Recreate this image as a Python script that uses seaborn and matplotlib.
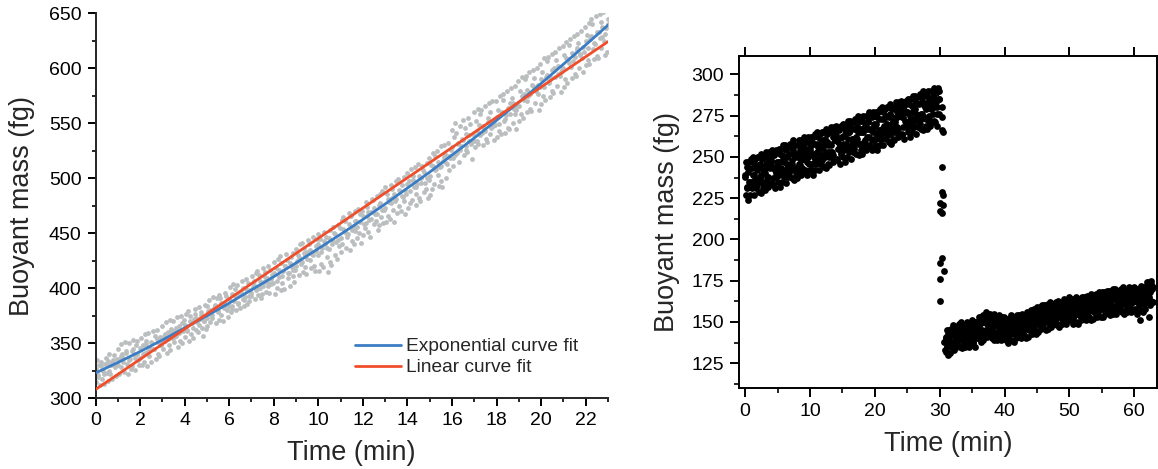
import numpy as np
import pandas as pd
import matplotlib
matplotlib.use("Agg")
import matplotlib.pyplot as plt
import seaborn as sns
from matplotlib.ticker import MultipleLocator

# ---------------- data: left panel (growth) ----------------
growth_t_start, growth_t_stop = 0.0, 23.0   # min, readings evenly spaced
growth_mass = [
    327, 315, 335, 321, 330, 312, 333, 318, 325, 313, 331, 337, 323, 334, 316, 340, 322, 330, 318, 335, 339, 329, 320, 336,
    345, 322, 336, 328, 349, 340, 337, 324, 351, 343, 331, 322, 350, 336, 327, 329, 345, 353, 340, 326, 348, 352, 335, 330,
    337, 355, 330, 348, 333, 358, 341, 352, 329, 359, 338, 346, 333, 350, 361, 345, 357, 336, 362, 340, 351, 338, 356, 348,
    366, 345, 357, 352, 369, 341, 360, 348, 371, 344, 363, 355, 370, 351, 361, 357, 374, 347, 366, 352, 375, 350, 368, 361,
    371, 356, 377, 362, 379, 352, 375, 358, 368, 355, 372, 381, 377, 362, 369, 360, 383, 372, 378, 364, 357, 370, 385, 363,
    366, 384, 379, 389, 369, 376, 373, 392, 382, 385, 368, 391, 378, 394, 371, 391, 376, 384, 370, 387, 396, 393, 380, 374,
    384, 401, 378, 395, 381, 404, 388, 399, 380, 403, 386, 394, 382, 397, 407, 400, 389, 384, 392, 408, 386, 405, 388, 398,
    393, 411, 401, 407, 390, 414, 398, 416, 394, 412, 400, 391, 395, 418, 406, 415, 397, 409, 402, 420, 396, 417, 404, 412,
    405, 424, 395, 418, 400, 427, 410, 429, 398, 423, 405, 416, 399, 420, 431, 426, 409, 414, 402, 428, 419, 432, 411, 406,
    417, 436, 425, 430, 412, 440, 422, 441, 415, 437, 419, 429, 413, 433, 444, 440, 426, 418, 431, 447, 420, 416, 438, 445,
    430, 449, 416, 445, 422, 437, 419, 451, 440, 447, 428, 415, 436, 453, 424, 421, 444, 456, 450, 430, 442, 427, 457, 438,
    455, 433, 462, 440, 465, 452, 461, 437, 447, 449, 468, 435, 466, 443, 456, 440, 470, 452, 461, 446, 472, 450, 467, 441,
    470, 448, 458, 455, 478, 466, 474, 451, 462, 447, 469, 481, 480, 458, 467, 461, 484, 453, 476, 457, 486, 465, 488, 459,
    471, 492, 460, 486, 466, 478, 463, 494, 482, 490, 471, 460, 479, 497, 468, 499, 475, 488, 470, 494, 483, 501, 479, 467,
    486, 505, 473, 497, 477, 508, 480, 502, 492, 510, 486, 476, 495, 513, 482, 479, 500, 511, 507, 487, 496, 490, 514, 482,
    498, 518, 485, 512, 490, 523, 495, 520, 508, 525, 503, 493, 510, 529, 497, 492, 516, 530, 522, 500, 513, 532, 507, 518,
    526, 544, 511, 518, 537, 550, 541, 523, 532, 515, 547, 529, 536, 553, 521, 546, 526, 540, 524, 555, 534, 549, 531, 517,
    540, 560, 528, 552, 534, 563, 531, 548, 558, 562, 541, 530, 545, 566, 536, 533, 555, 568, 560, 540, 551, 570, 547, 535,
    548, 570, 537, 562, 543, 575, 540, 559, 571, 576, 552, 541, 557, 579, 546, 545, 568, 582, 573, 550, 563, 584, 558, 545,
    566, 588, 552, 579, 558, 592, 555, 576, 590, 593, 570, 560, 575, 596, 563, 561, 585, 598, 591, 568, 580, 600, 576, 562,
    583, 604, 567, 596, 575, 609, 571, 592, 606, 610, 586, 574, 591, 613, 579, 577, 600, 615, 607, 584, 595, 618, 593, 578,
    598, 620, 583, 612, 590, 624, 586, 608, 621, 626, 601, 591, 606, 629, 595, 593, 616, 631, 623, 600, 612, 634, 609, 596,
    615, 637, 603, 630, 607, 641, 604, 626, 645, 640, 617, 608, 622, 647, 611, 609, 633, 649, 642, 618, 628, 651, 625, 612,
    636, 615, 645,
]
growth_mass_core = [
    326, 319, 329, 322, 331, 325, 333, 328, 330, 338, 333, 341, 335, 343, 337, 340,
    346, 340, 349, 343, 351, 345, 354, 348, 351, 358, 354, 361, 356, 364, 359, 362,
    367, 361, 370, 364, 373, 367, 376, 370, 373, 380, 376, 384, 379, 387, 382, 385,
    390, 384, 393, 387, 396, 390, 399, 393, 396, 403, 399, 407, 402, 410, 405, 408,
    414, 407, 417, 411, 420, 414, 423, 417, 420, 428, 424, 432, 427, 435, 430, 434,
    440, 433, 443, 437, 446, 440, 449, 444, 446, 454, 450, 458, 453, 461, 456, 460,
    466, 459, 469, 463, 473, 467, 477, 471, 473, 481, 477, 486, 481, 489, 484, 489,
    495, 488, 498, 492, 502, 496, 506, 500, 502, 511, 507, 515, 511, 519, 514, 520,
    528, 521, 531, 526, 535, 529, 539, 533, 534, 543, 539, 547, 543, 551, 546, 552,
    556, 549, 560, 554, 564, 558, 568, 562, 566, 575, 571, 580, 576, 584, 579, 585,
    590, 583, 594, 588, 598, 592, 602, 596, 600, 609, 605, 614, 610, 618, 613, 619,
    625, 618, 629, 623, 633, 627, 637, 631, 640,
]
exp_fit_time = [0, 1, 2, 3, 4, 5, 6, 7, 8, 9, 10, 11, 12, 13, 14, 15, 16, 17, 18, 19, 20, 21, 22, 23]
exp_fit_mass = [323, 332.5, 342.5, 353, 364, 375, 386.5, 398.5, 410.5, 423, 436, 449,
                462.5, 476.5, 491, 505.5, 521, 536.5, 552.5, 569, 586, 603.5, 621, 639]
lin_fit_time = [0, 23]
lin_fit_mass = [308, 624]

# ---------------- data: right panel (division) ----------------
before_t_start, before_t_stop = 0.0, 29.9     # min, readings evenly spaced
before_mass = [
    239, 227, 247, 231, 244, 224, 247, 235, 243, 227, 249, 233,
    231, 243, 250, 247, 227, 239, 236, 249, 231, 245, 233, 250,
    250, 235, 229, 238, 246, 252, 228, 244, 249, 242, 231, 235,
    230, 250, 243, 253, 235, 238, 247, 232, 253, 234, 245, 250,
    248, 254, 234, 233, 244, 252, 251, 231, 242, 254, 238, 247,
    247, 235, 255, 239, 252, 232, 255, 243, 251, 235, 257, 241,
    238, 250, 257, 254, 234, 246, 243, 256, 238, 252, 240, 257,
    258, 243, 237, 246, 254, 260, 236, 252, 257, 250, 239, 243,
    237, 257, 250, 260, 242, 245, 254, 239, 260, 241, 252, 257,
    256, 262, 242, 241, 252, 260, 259, 239, 250, 262, 246, 255,
    254, 242, 262, 246, 259, 239, 262, 250, 258, 242, 264, 248,
    246, 258, 265, 262, 242, 254, 251, 264, 246, 260, 248, 265,
    265, 250, 244, 253, 261, 267, 243, 259, 264, 257, 246, 250,
    245, 265, 258, 268, 250, 253, 262, 247, 268, 249, 260, 265,
    263, 269, 249, 248, 259, 267, 266, 246, 257, 269, 253, 262,
    262, 250, 270, 254, 267, 247, 270, 258, 266, 250, 272, 256,
    253, 265, 272, 269, 249, 261, 258, 271, 253, 267, 255, 272,
    273, 258, 252, 261, 269, 275, 251, 267, 272, 265, 254, 258,
    252, 272, 265, 275, 257, 260, 269, 254, 275, 256, 267, 272,
    271, 277, 257, 256, 267, 275, 274, 254, 265, 277, 261, 270,
    269, 257, 277, 261, 274, 254, 277, 265, 273, 257, 279, 263,
    261, 273, 280, 277, 257, 269, 266, 279, 261, 275, 263, 280,
    280, 265, 259, 268, 276, 282, 258, 274, 279, 272, 261, 265,
    260, 280, 273, 283, 265, 268, 277, 262, 283, 264, 275, 280,
    278, 284, 264, 263, 274, 282, 281, 261, 272, 284, 268, 277,
    277, 265, 285, 269, 282, 262, 285, 273, 281, 265, 287, 271,
    268, 280, 287, 284, 264, 276, 273, 286, 268, 282, 270, 287,
    288, 273, 267, 276, 284, 290, 266, 282, 287, 280, 269, 273,
    267, 287, 280, 290, 272, 275, 284, 269, 290, 271, 282, 287,
    286, 292, 272, 271, 282, 290, 289, 269, 280, 292, 276, 285,
]
before_mass_core = [
    238, 232, 241, 235, 235, 239, 233, 242, 243, 237, 239, 234, 240, 246, 238, 243,
    247, 237, 243, 240, 244, 247, 240, 249, 247, 241, 250, 244, 244, 248, 242, 251,
    252, 246, 248, 243, 249, 255, 247, 252, 256, 246, 252, 249, 253, 256, 249, 258,
    256, 250, 259, 253, 253, 257, 251, 260, 261, 255, 257, 252, 258, 264, 256, 261,
    265, 255, 261, 258, 262, 265, 258, 267, 265, 259, 268, 262, 262, 266, 260, 269,
    270, 264, 266, 261, 267, 273, 265, 270, 274, 264, 270, 267, 271, 274, 267, 276,
    274, 268, 277, 271, 271, 275, 269, 278, 279, 273, 275, 270, 276, 282, 274, 279,
    283, 273, 279, 276, 280, 283, 276, 285,
]
after_t_start, after_t_stop = 30.9, 62.8      # min, readings evenly spaced
after_mass = [
    140, 132, 145, 135, 143, 130, 145, 137, 142, 131, 146, 135,
    135, 143, 148, 146, 133, 141, 138, 147, 135, 144, 136, 147,
    149, 139, 135, 142, 147, 150, 134, 145, 148, 143, 136, 139,
    135, 148, 143, 150, 138, 140, 145, 135, 149, 137, 144, 147,
    147, 151, 138, 137, 144, 150, 148, 135, 142, 150, 140, 146,
    148, 140, 153, 143, 151, 138, 153, 145, 150, 139, 154, 143,
    143, 151, 156, 154, 141, 149, 146, 155, 143, 152, 144, 155,
    154, 144, 140, 147, 152, 155, 139, 150, 153, 148, 141, 144,
    139, 152, 147, 154, 142, 144, 149, 139, 153, 141, 148, 151,
    149, 153, 140, 139, 146, 152, 150, 137, 144, 152, 142, 148,
    143, 154, 139, 150, 145, 153, 138, 151, 143, 153, 140, 148,
    154, 143, 151, 142, 154, 145, 148, 140, 153, 155, 150, 142,
    145, 142, 149, 154, 151, 140, 156, 153, 148, 141, 145, 155,
    155, 152, 145, 157, 143, 153, 148, 146, 158, 151, 156, 143,
    155, 149, 159, 151, 144, 157, 159, 153, 146, 147, 160, 156,
    155, 147, 160, 150, 158, 145, 160, 152, 157, 146, 161, 150,
    149, 157, 162, 160, 147, 155, 152, 161, 149, 158, 150, 161,
    162, 152, 148, 155, 160, 163, 147, 158, 161, 156, 149, 152,
    149, 162, 157, 164, 152, 154, 159, 149, 163, 151, 158, 161,
    161, 165, 152, 151, 158, 164, 162, 149, 156, 164, 154, 160,
    154, 165, 150, 161, 156, 164, 149, 162, 154, 164, 151, 159,
    165, 154, 162, 153, 165, 156, 159, 151, 164, 166, 161, 153,
    156, 153, 160, 165, 162, 151, 167, 164, 159, 152, 156, 166,
    165, 162, 155, 167, 153, 163, 158, 156, 168, 161, 166, 153,
    164, 158, 168, 160, 153, 166, 168, 162, 155, 156, 169, 165,
    164, 156, 169, 159, 167, 154, 169, 161, 166, 155, 170, 159,
    157, 165, 170, 168, 155, 163, 160, 169, 157, 166, 158, 169,
    170, 160, 156, 163, 168, 171, 155, 166, 169, 164, 157, 160,
    156, 169, 164, 171, 159, 161, 166, 156, 170, 158, 165, 168,
    167, 171, 158, 157, 164, 170, 168, 155, 162, 170, 160, 166,
    161, 172, 157, 168, 163, 171, 156, 169, 161, 171, 158, 166,
    174, 163, 171, 162, 174, 165, 168, 160, 173, 175, 170, 162,
]
after_mass_core = [
    139, 135, 141, 137, 138, 142, 136, 143, 144, 140, 142, 138, 141, 145, 140, 143,
    146, 141, 144, 142, 147, 149, 144, 150, 150, 145, 151, 147, 145, 149, 143, 148,
    148, 144, 146, 142, 144, 148, 143, 146, 149, 144, 147, 145, 148, 151, 146, 150,
    150, 146, 151, 148, 148, 152, 146, 153, 154, 150, 152, 148, 152, 156, 151, 154,
    157, 152, 155, 153, 156, 159, 154, 158, 158, 154, 159, 156, 155, 159, 153, 160,
    159, 155, 157, 153, 157, 161, 156, 159, 162, 157, 160, 158, 161, 164, 159, 163,
    163, 159, 164, 161, 160, 164, 158, 165, 164, 160, 162, 158, 162, 166, 161, 164,
    166, 161, 164, 162, 164, 167, 162, 166, 166, 162, 167, 164, 165, 169, 163, 171,
]
sparse_time = [29.9, 30.3, 30.4, 30.3, 30.5, 30.4, 30.4, 30.5, 30.1, 30.5, 30.0,
               30.4, 30.3, 30.0, 30.6, 30.1, 30.1, 30.7, 30.8, 30.9, 60.9, 62.3]
sparse_mass = [290, 280, 274, 266, 265, 244, 229, 227, 222, 221, 217,
               216, 189, 185.5, 181, 176, 163, 138, 133, 141, 151, 153]

# ---------------- build tables ----------------
def readings(values, t0, t1):
    return pd.DataFrame({"time": np.linspace(t0, t1, len(values)), "mass": values})

growth = pd.concat([
    readings(growth_mass, growth_t_start, growth_t_stop),
    readings(growth_mass_core, growth_t_start, growth_t_stop),
], ignore_index=True)
exp_fit = pd.DataFrame({"time": exp_fit_time, "mass": exp_fit_mass})
lin_fit = pd.DataFrame({"time": lin_fit_time, "mass": lin_fit_mass})

division = pd.concat([
    readings(before_mass, before_t_start, before_t_stop),
    readings(before_mass_core, before_t_start, before_t_stop),
    readings(after_mass, after_t_start, after_t_stop),
    readings(after_mass_core, after_t_start, after_t_stop),
    pd.DataFrame({"time": sparse_time, "mass": sparse_mass}),
], ignore_index=True)

# ---------------- style ----------------
sns.set_theme(style="ticks")
plt.rcParams["font.family"] = ["Liberation Sans", "DejaVu Sans"]
plt.rcParams["axes.linewidth"] = 1.4

fig = plt.figure(figsize=(11.58, 4.69), dpi=100)
ax1 = fig.add_axes([0.0825, 0.1507, 0.4425, 0.8215])
ax2 = fig.add_axes([0.638, 0.1727, 0.3609, 0.7085])

# ---------------- left panel ----------------
sns.scatterplot(data=growth, x="time", y="mass", ax=ax1, color="#babebe",
                s=12, linewidth=0, zorder=2)
sns.lineplot(data=exp_fit, x="time", y="mass", ax=ax1, color="#3b7dc4",
             linewidth=2.0, label="Exponential curve fit", zorder=3)
sns.lineplot(data=lin_fit, x="time", y="mass", ax=ax1, color="#f04e2b",
             linewidth=2.0, label="Linear curve fit", zorder=3)
ax1.set_xlim(0, 23)
ax1.set_ylim(300, 650)
ax1.xaxis.set_major_locator(MultipleLocator(2))
ax1.xaxis.set_minor_locator(MultipleLocator(1))
ax1.yaxis.set_major_locator(MultipleLocator(50))
ax1.yaxis.set_minor_locator(MultipleLocator(25))
sns.despine(ax=ax1)
ax1.tick_params(which="major", direction="out", length=6, width=1.4,
                labelsize=14, pad=4, color="black", labelcolor="black")
ax1.tick_params(which="minor", direction="out", length=3.2, width=1.2, color="black")
ax1.set_xlabel("Time (min)", fontsize=19.5, labelpad=8)
ax1.set_ylabel("Buoyant mass (fg)", fontsize=19.5, labelpad=10)
leg = ax1.legend(loc="upper left", bbox_to_anchor=(0.507, 0.157), frameon=False,
                 fontsize=13.8, handlelength=2.4, handletextpad=0.25,
                 labelspacing=0.2, borderpad=0, borderaxespad=0)

# ---------------- right panel ----------------
sns.scatterplot(data=division, x="time", y="mass", ax=ax2, color="black",
                s=24, linewidth=0, zorder=2)
ax2.set_xlim(-0.97, 63.45)
ax2.set_ylim(110, 311.3)
ax2.xaxis.set_major_locator(MultipleLocator(10))
ax2.xaxis.set_minor_locator(MultipleLocator(5))
ax2.yaxis.set_major_locator(MultipleLocator(25))
ax2.yaxis.set_minor_locator(MultipleLocator(12.5))
ax2.xaxis.set_ticks_position("both")
ax2.tick_params(which="major", direction="out", length=6.5, width=1.4,
                labelsize=14, pad=4, color="black", labelcolor="black")
ax2.tick_params(which="minor", direction="out", length=3.6, width=1.2, color="black")
ax2.tick_params(axis="x", which="minor", top=False)
ax2.tick_params(axis="x", which="major", labeltop=False)
for sp in ax2.spines.values():
    sp.set_visible(True)
    sp.set_linewidth(1.4)
    sp.set_color("black")
ax2.set_xlabel("Time (min)", fontsize=19.5, labelpad=8)
ax2.set_ylabel("Buoyant mass (fg)", fontsize=19.5, labelpad=8)

fig.savefig("out.png", dpi=100, facecolor="white")
